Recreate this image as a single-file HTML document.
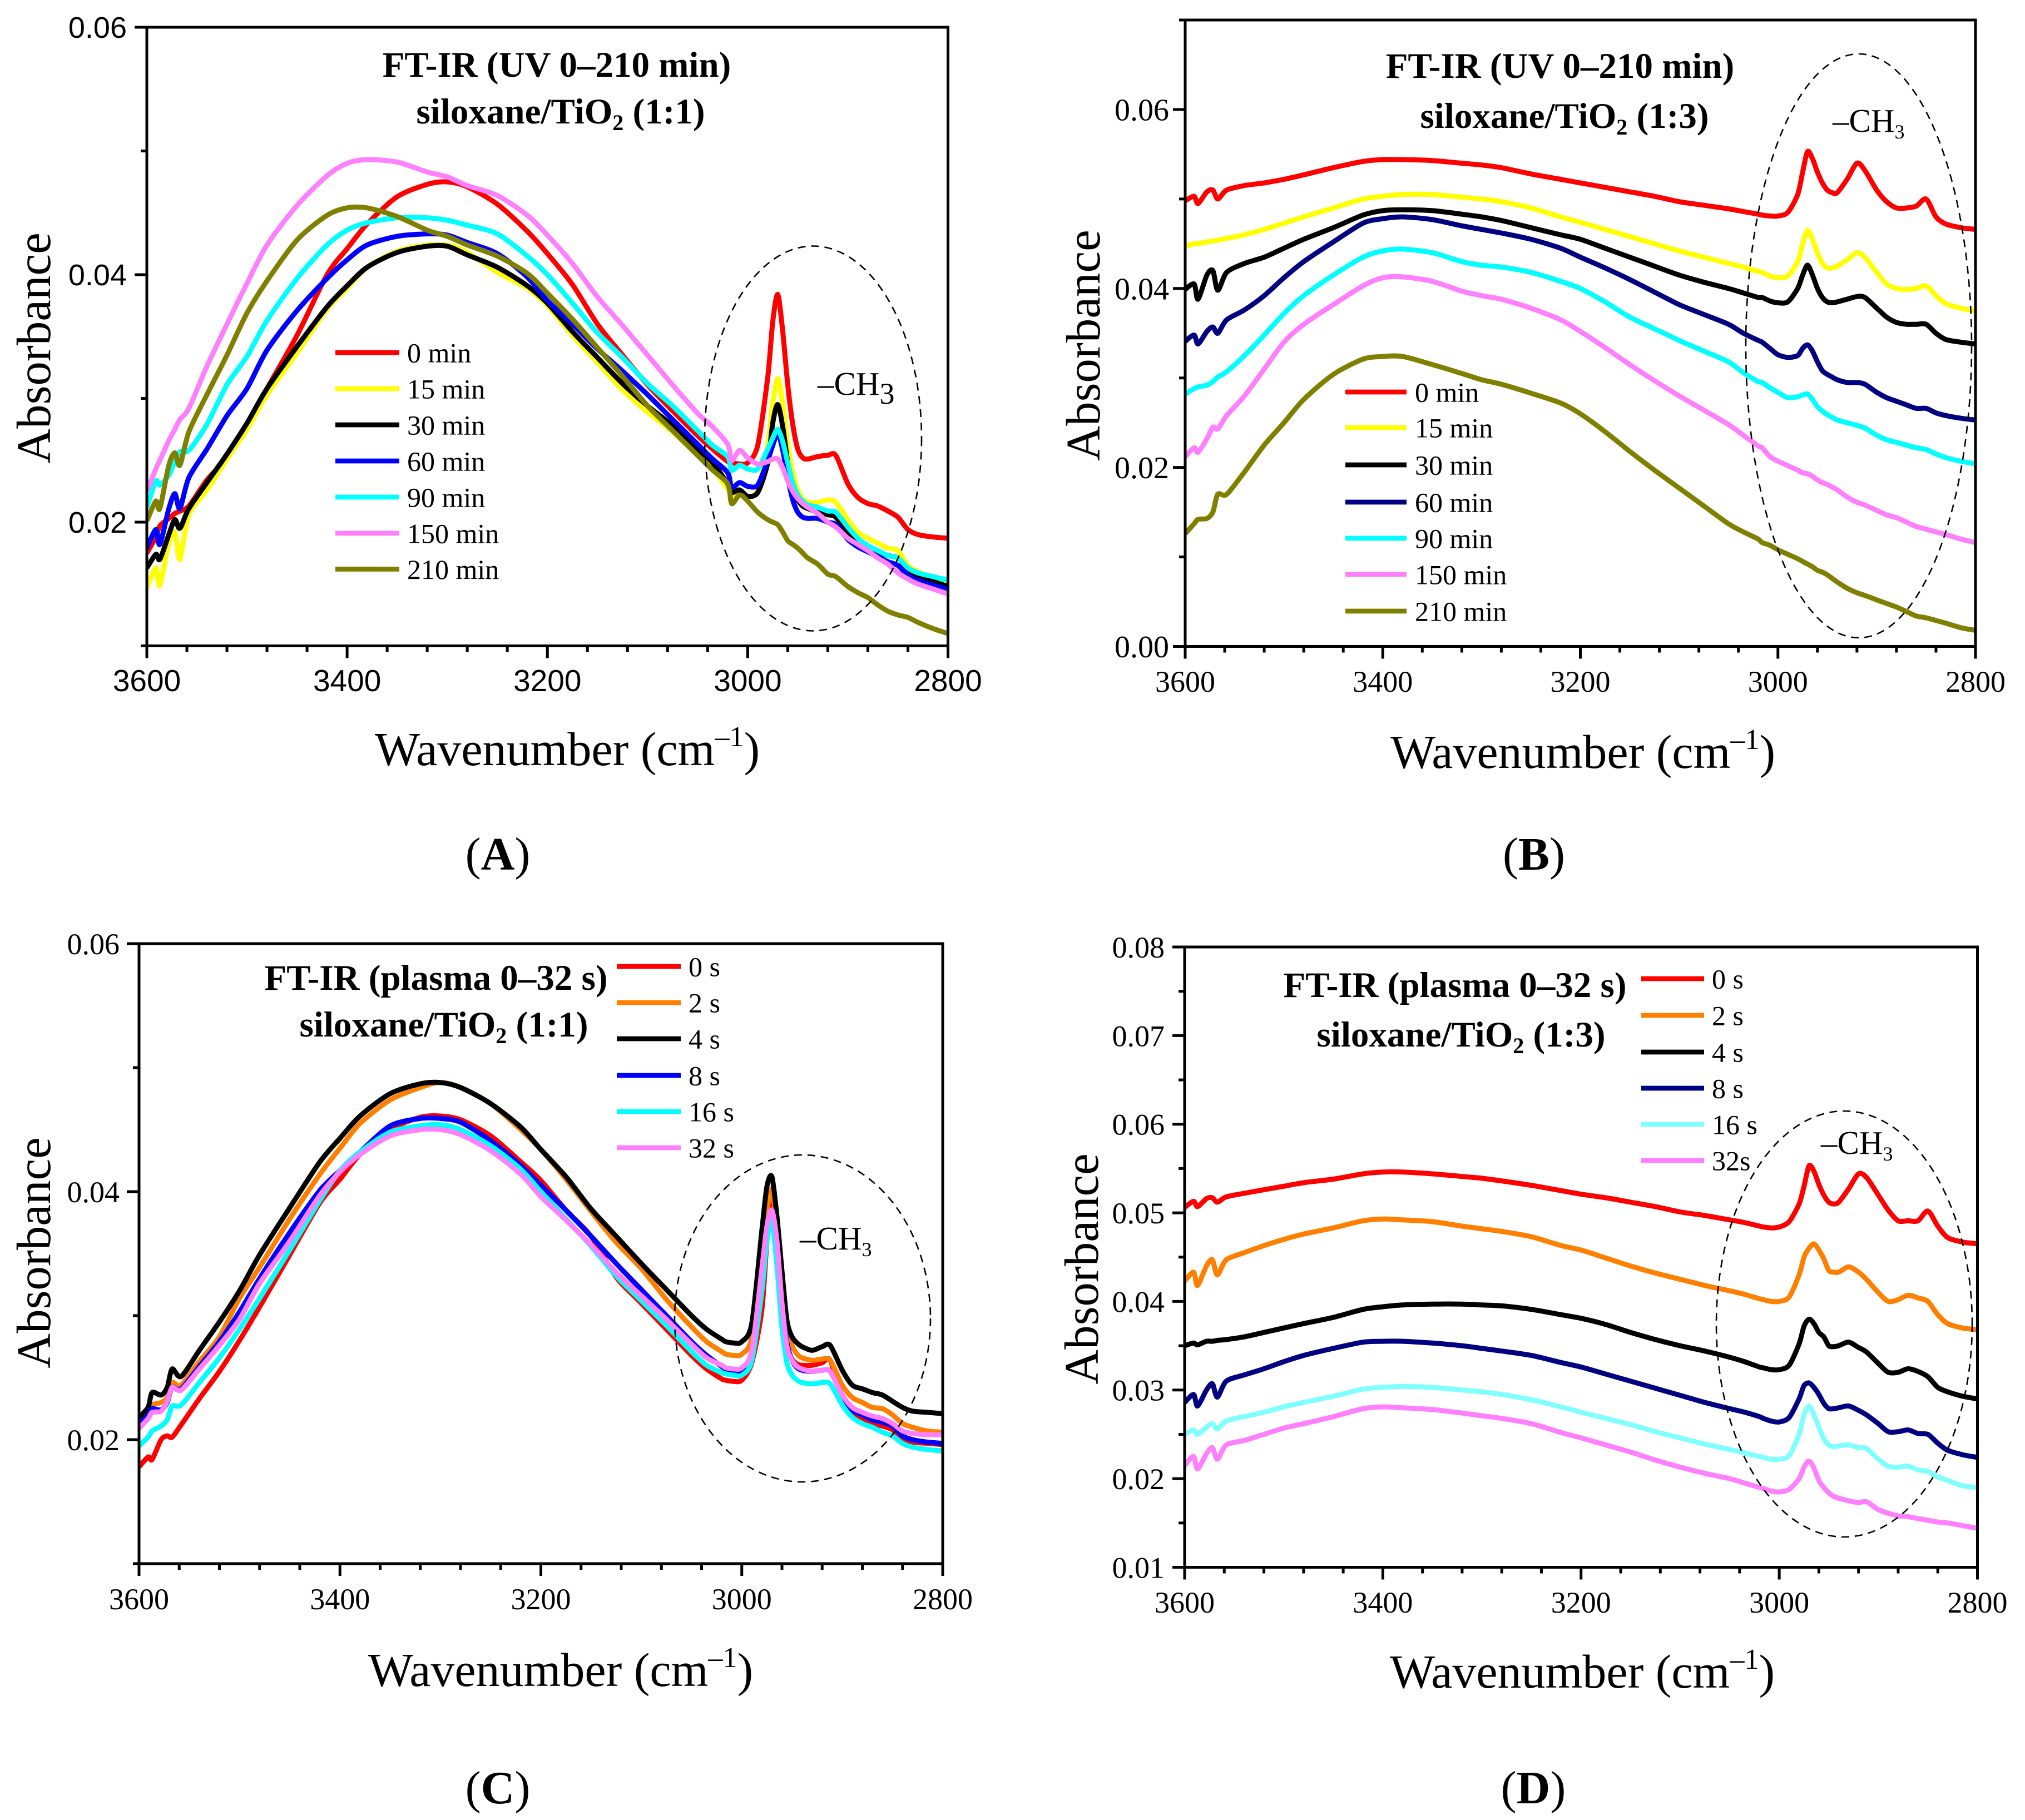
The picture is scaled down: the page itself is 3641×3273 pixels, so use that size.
<!DOCTYPE html>
<html lang="en">
<head>
<meta charset="utf-8">
<title>FT-IR spectra of siloxane/TiO2 films</title>
<style>
html,body{margin:0;padding:0;background:#fff;}
svg{display:block;}
text{font-family:"Liberation Serif",serif;fill:#000;}
.title{font-weight:bold;font-size:65px;text-anchor:middle;}
.axt{font-size:86px;}
.ytt{font-size:87px;}
.letter{font-size:84px;text-anchor:middle;}
.ch{font-size:59px;}
.ell{fill:none;stroke:#000;stroke-width:2.6;stroke-dasharray:14 10;}
</style>
</head>
<body>
<svg id="figure" xmlns="http://www.w3.org/2000/svg" width="3641" height="3273" viewBox="0 0 3641 3273">
<rect width="3641" height="3273" fill="#fff"/>
<g id="plots"></g>

<ellipse class="ell" cx="1462" cy="788.5" rx="195" ry="346"/>
<ellipse class="ell" cx="3342" cy="622" rx="203" ry="525"/>
<ellipse class="ell" cx="1443" cy="2371" rx="230" ry="294"/>
<ellipse class="ell" cx="3316" cy="2381" rx="230" ry="383"/>

<text class="title" x="1001" y="138">FT-IR (UV 0–210 min)</text>
<text class="title" x="1008" y="222">siloxane/TiO<tspan font-size="40" dy="12">2</tspan><tspan dy="-12"> (1:1)</tspan></text>
<text class="title" x="2805" y="140">FT-IR (UV 0–210 min)</text>
<text class="title" x="2813" y="230">siloxane/TiO<tspan font-size="40" dy="12">2</tspan><tspan dy="-12"> (1:3)</tspan></text>
<text class="title" x="784" y="1780">FT-IR (plasma 0–32 s)</text>
<text class="title" x="798" y="1864">siloxane/TiO<tspan font-size="40" dy="12">2</tspan><tspan dy="-12"> (1:1)</tspan></text>
<text class="title" x="2616" y="1793">FT-IR (plasma 0–32 s)</text>
<text class="title" x="2627" y="1882">siloxane/TiO<tspan font-size="40" dy="12">2</tspan><tspan dy="-12"> (1:3)</tspan></text>

<text class="ch" x="1470" y="710">–CH<tspan dy="16" font-size="54">3</tspan></text>
<text class="ch" x="3295" y="237">–CH<tspan dy="12" font-size="36">3</tspan></text>
<text class="ch" x="1438" y="2247">–CH<tspan dy="12" font-size="36">3</tspan></text>
<text class="ch" x="3274" y="2075">–CH<tspan dy="12" font-size="36">3</tspan></text>

<text class="axt" text-anchor="middle" x="1020" y="1376">Wavenumber (cm<tspan font-size="52" dy="-34">–1</tspan><tspan dy="34">)</tspan></text>
<text class="axt" text-anchor="middle" x="2846" y="1381">Wavenumber (cm<tspan font-size="52" dy="-34">–1</tspan><tspan dy="34">)</tspan></text>
<text class="axt" text-anchor="middle" x="1008" y="3032">Wavenumber (cm<tspan font-size="52" dy="-34">–1</tspan><tspan dy="34">)</tspan></text>
<text class="axt" text-anchor="middle" x="2845" y="3035">Wavenumber (cm<tspan font-size="52" dy="-34">–1</tspan><tspan dy="34">)</tspan></text>

<text class="ytt" text-anchor="middle" transform="translate(90 626) rotate(-90)">Absorbance</text>
<text class="ytt" text-anchor="middle" transform="translate(1977 621) rotate(-90)">Absorbance</text>
<text class="ytt" text-anchor="middle" transform="translate(90 2253) rotate(-90)">Absorbance</text>
<text class="ytt" text-anchor="middle" transform="translate(1974 2282) rotate(-90)">Absorbance</text>

<text class="letter" x="895" y="1564">(<tspan font-weight="bold">A</tspan>)</text>
<text class="letter" x="2758" y="1564">(<tspan font-weight="bold">B</tspan>)</text>
<text class="letter" x="895" y="3243">(<tspan font-weight="bold">C</tspan>)</text>
<text class="letter" x="2757" y="3243">(<tspan font-weight="bold">D</tspan>)</text>
</svg>

<script>
// ---------- Shared x data ----------
const wavenumbers = [3600,3591,3587,3578,3572,3567,3558,3540,3520,3500,3480,3450,3420,3400,3380,3350,3320,3300,3280,3250,3220,3200,3175,3150,3125,3100,3075,3050,3035,3020,3016,3008,3000,2990,2980,2975,2970,2965,2960,2955,2950,2945,2940,2930,2920,2912,2900,2890,2880,2870,2860,2850,2840,2830,2815,2800];
const xTickValues = [3600,3400,3200,3000,2800];
const xMinorStep = 40;

// ---------- Panel A: UV, 1:1 ----------
const labelsUV = ["0 min","15 min","30 min","60 min","90 min","150 min","210 min"];
const yTicksA = ["0.02","0.04","0.06"];
const a0 = [.0175,.0188,.0197,.0203,.0207,.0209,.0213,.0234,.0252,.0278,.0308,.0351,.0400,.0421,.0441,.0463,.0473,.0475,.0471,.0457,.0435,.0417,.0392,.0360,.0335,.0311,.0290,.0270,.0259,.0249,.0248,.0247,.0248,.0262,.0317,.0362,.0384,.0354,.0311,.0279,.0259,.0252,.0251,.0253,.0254,.0254,.0231,.0220,.0215,.0213,.0209,.0204,.0194,.0190,.0188,.0187];
const a15 = [.0147,.0163,.0149,.0183,.0192,.0170,.0206,.0226,.0251,.0275,.0303,.0337,.0372,.0389,.0406,.0419,.0424,.0424,.0418,.0402,.0389,.0375,.0351,.0329,.0307,.0289,.0273,.0254,.0243,.0227,.0221,.0222,.0220,.0226,.0262,.0296,.0316,.0295,.0262,.0240,.0226,.0219,.0216,.0216,.0218,.0216,.0202,.0192,.0187,.0183,.0179,.0177,.0165,.0160,.0155,.0151];
const a30 = [.0163,.0174,.0170,.0190,.0202,.0195,.0211,.0232,.0255,.0280,.0308,.0342,.0374,.0391,.0406,.0418,.0423,.0423,.0416,.0406,.0391,.0377,.0354,.0333,.0312,.0294,.0278,.0259,.0248,.0231,.0224,.0226,.0221,.0224,.0248,.0280,.0295,.0277,.0248,.0228,.0218,.0213,.0211,.0208,.0206,.0204,.0191,.0184,.0179,.0176,.0173,.0171,.0162,.0156,.0152,.0148];
const a60 = [.0179,.0194,.0182,.0211,.0223,.0211,.0236,.0259,.0286,.0308,.0339,.0371,.0397,.0412,.0424,.0431,.0433,.0432,.0426,.0417,.0398,.0379,.0360,.0340,.0322,.0303,.0283,.0263,.0251,.0240,.0228,.0232,.0229,.0230,.0250,.0262,.0272,.0258,.0236,.0218,.0208,.0204,.0203,.0203,.0200,.0198,.0186,.0180,.0176,.0172,.0168,.0165,.0157,.0153,.0149,.0146];
const a90 = [.0212,.0233,.0230,.0238,.0249,.0257,.0258,.0279,.0311,.0334,.0363,.0397,.0424,.0436,.0442,.0446,.0446,.0444,.0440,.0433,.0415,.0400,.0377,.0353,.0333,.0312,.0294,.0274,.0262,.0253,.0242,.0246,.0243,.0243,.0259,.0268,.0275,.0265,.0248,.0232,.0222,.0217,.0214,.0212,.0209,.0208,.0196,.0187,.0181,.0177,.0173,.0171,.0163,.0159,.0156,.0153];
const a150 = [.0225,.0243,.0250,.0266,.0275,.0283,.0292,.0326,.0360,.0393,.0424,.0456,.0480,.0490,.0493,.0491,.0483,.0479,.0472,.0464,.0448,.0432,.0409,.0382,.0359,.0335,.0311,.0288,.0277,.0263,.0250,.0258,.0252,.0247,.0249,.0251,.0251,.0244,.0233,.0225,.0219,.0215,.0212,.0207,.0200,.0196,.0187,.0182,.0177,.0171,.0166,.0159,.0154,.0150,.0146,.0142];
const a210 = [.0201,.0217,.0211,.0246,.0256,.0246,.0273,.0303,.0335,.0369,.0395,.0428,.0448,.0454,.0454,.0447,.0436,.0431,.0424,.0415,.0401,.0385,.0364,.0341,.0318,.0294,.0274,.0254,.0242,.0231,.0215,.0222,.0217,.0208,.0202,.0200,.0198,.0192,.0185,.0182,.0179,.0175,.0171,.0166,.0158,.0156,.0148,.0143,.0139,.0133,.0128,.0125,.0123,.0119,.0114,.0110];

// ---------- Panel B: UV, 1:3 ----------
const yTicksB = ["0.00","0.02","0.04","0.06"];
const b0 = [.0498,.0503,.0495,.0508,.0510,.0500,.0510,.0515,.0518,.0522,.0527,.0535,.0542,.0544,.0544,.0543,.0540,.0538,.0535,.0528,.0522,.0518,.0513,.0508,.0503,.0497,.0493,.0489,.0486,.0483,.0482,.0481,.0481,.0485,.0505,.0530,.0553,.0545,.0530,.0518,.0510,.0507,.0507,.0522,.0540,.0532,.0510,.0497,.0490,.0490,.0492,.0500,.0480,.0472,.0468,.0466];
const b15 = [.0447,.0450,.0450,.0452,.0453,.0454,.0456,.0460,.0466,.0473,.0480,.0490,.0500,.0503,.0505,.0505,.0502,.0500,.0497,.0490,.0480,.0474,.0466,.0458,.0450,.0442,.0435,.0428,.0424,.0419,.0418,.0414,.0412,.0414,.0430,.0450,.0465,.0455,.0440,.0428,.0423,.0423,.0425,.0432,.0440,.0435,.0418,.0405,.0400,.0399,.0400,.0403,.0392,.0383,.0378,.0375];
const b30 = [.0399,.0405,.0388,.0415,.0420,.0398,.0418,.0428,.0435,.0445,.0455,.0468,.0482,.0487,.0488,.0487,.0483,.0480,.0476,.0468,.0460,.0455,.0445,.0435,.0425,.0415,.0407,.0400,.0395,.0390,.0390,.0386,.0384,.0385,.0400,.0415,.0426,.0415,.0400,.0390,.0385,.0384,.0385,.0388,.0391,.0390,.0378,.0368,.0362,.0360,.0360,.0360,.0350,.0343,.0340,.0338];
const b60 = [.0341,.0348,.0338,.0352,.0357,.0350,.0365,.0376,.0392,.0412,.0430,.0452,.0473,.0478,.0480,.0477,.0470,.0466,.0462,.0455,.0445,.0435,.0423,.0410,.0396,.0382,.0371,.0360,.0350,.0342,.0340,.0333,.0326,.0323,.0325,.0333,.0337,.0330,.0318,.0308,.0304,.0301,.0298,.0295,.0295,.0293,.0284,.0278,.0274,.0270,.0266,.0266,.0261,.0258,.0255,.0253];
const b90 = [.0282,.0288,.0290,.0292,.0296,.0301,.0307,.0325,.0348,.0372,.0392,.0415,.0435,.0442,.0444,.0440,.0430,.0426,.0424,.0418,.0408,.0400,.0385,.0368,.0355,.0342,.0330,.0318,.0306,.0296,.0295,.0289,.0284,.0278,.0279,.0281,.0282,.0276,.0268,.0263,.0259,.0256,.0253,.0250,.0247,.0244,.0236,.0231,.0228,.0225,.0222,.0220,.0215,.0211,.0207,.0204];
const b150 = [.0212,.0222,.0217,.0232,.0245,.0243,.0258,.0280,.0310,.0340,.0360,.0382,.0403,.0412,.0413,.0408,.0397,.0392,.0388,.0378,.0365,.0352,.0334,.0315,.0297,.0280,.0264,.0248,.0236,.0224,.0222,.0212,.0207,.0202,.0197,.0194,.0193,.0190,.0186,.0183,.0181,.0178,.0175,.0167,.0161,.0158,.0152,.0147,.0144,.0139,.0134,.0131,.0128,.0125,.0120,.0116];
const b210 = [.0126,.0137,.0142,.0143,.0150,.0170,.0170,.0195,.0225,.0250,.0276,.0304,.0321,.0324,.0324,.0315,.0305,.0298,.0293,.0283,.0272,.0260,.0240,.0218,.0197,.0177,.0157,.0137,.0128,.0120,.0116,.0113,.0108,.0103,.0098,.0095,.0092,.0089,.0085,.0083,.0080,.0076,.0072,.0065,.0060,.0057,.0052,.0048,.0044,.0039,.0034,.0032,.0029,.0026,.0021,.0018];

// ---------- Panel C: plasma, 1:1 ----------
const labelsPlasmaC = ["0 s","2 s","4 s","8 s","16 s","32 s"];
const yTicksC = ["0.02","0.04","0.06"];
const c0 = [.0178,.0186,.0184,.0200,.0203,.0202,.0212,.0233,.0255,.0280,.0307,.0349,.0391,.0410,.0430,.0450,.0460,.0461,.0458,.0445,.0424,.0409,.0385,.0364,.0331,.0310,.0289,.0268,.0257,.0249,.0248,.0247,.0248,.0262,.0305,.0360,.0395,.0360,.0305,.0275,.0265,.0261,.0260,.0260,.0262,.0264,.0234,.0222,.0217,.0213,.0211,.0208,.0201,.0198,.0197,.0196];
const c2 = [.0215,.0222,.0228,.0230,.0234,.0246,.0244,.0263,.0283,.0314,.0339,.0378,.0414,.0435,.0455,.0474,.0484,.0488,.0484,.0471,.0450,.0434,.0410,.0384,.0359,.0338,.0313,.0291,.0279,.0271,.0269,.0268,.0269,.0283,.0355,.0385,.0402,.0370,.0325,.0288,.0276,.0269,.0266,.0264,.0265,.0264,.0244,.0234,.0230,.0226,.0225,.0220,.0213,.0210,.0207,.0206];
const c4 = [.0218,.0226,.0238,.0236,.0242,.0257,.0251,.0272,.0295,.0320,.0349,.0387,.0424,.0443,.0461,.0479,.0487,.0488,.0484,.0471,.0452,.0434,.0412,.0386,.0364,.0342,.0321,.0300,.0289,.0281,.0279,.0278,.0279,.0294,.0369,.0404,.0412,.0380,.0336,.0296,.0283,.0278,.0275,.0272,.0275,.0276,.0256,.0244,.0241,.0238,.0236,.0231,.0226,.0223,.0222,.0221];
const c8 = [.0212,.0220,.0225,.0224,.0230,.0242,.0241,.0259,.0279,.0303,.0330,.0367,.0401,.0417,.0432,.0453,.0459,.0459,.0456,.0441,.0421,.0405,.0385,.0364,.0342,.0321,.0300,.0279,.0268,.0259,.0257,.0256,.0256,.0267,.0335,.0370,.0385,.0358,.0310,.0278,.0264,.0258,.0256,.0255,.0256,.0255,.0236,.0224,.0220,.0216,.0214,.0211,.0203,.0200,.0198,.0197];
const c16 = [.0195,.0202,.0207,.0211,.0216,.0227,.0228,.0246,.0266,.0289,.0314,.0353,.0393,.0417,.0432,.0448,.0453,.0454,.0450,.0437,.0418,.0400,.0378,.0356,.0332,.0312,.0292,.0271,.0260,.0254,.0253,.0252,.0252,.0264,.0320,.0360,.0376,.0340,.0290,.0262,.0252,.0248,.0246,.0245,.0246,.0245,.0228,.0218,.0213,.0210,.0206,.0203,.0197,.0194,.0192,.0191];
const c32 = [.0209,.0217,.0222,.0223,.0231,.0242,.0240,.0257,.0276,.0297,.0326,.0360,.0397,.0416,.0430,.0445,.0450,.0450,.0446,.0433,.0414,.0396,.0377,.0357,.0335,.0316,.0297,.0277,.0266,.0260,.0258,.0257,.0258,.0272,.0338,.0372,.0385,.0360,.0310,.0275,.0264,.0259,.0257,.0255,.0256,.0255,.0236,.0226,.0222,.0219,.0217,.0213,.0207,.0205,.0204,.0204];

// ---------- Panel D: plasma, 1:3 ----------
const labelsPlasmaD = ["0 s","2 s","4 s","8 s","16 s","32s"];
const yTicksD = ["0.01","0.02","0.03","0.04","0.05","0.06","0.07","0.08"];
const d0 = [.0506,.0513,.0507,.0516,.0517,.0512,.0518,.0522,.0526,.0530,.0534,.0538,.0544,.0546,.0546,.0544,.0541,.0539,.0536,.0531,.0525,.0521,.0517,.0512,.0507,.0501,.0497,.0492,.0489,.0485,.0484,.0483,.0484,.0490,.0510,.0530,.0553,.0547,.0532,.0520,.0512,.0510,.0512,.0527,.0544,.0540,.0520,.0503,.0491,.0491,.0491,.0502,.0485,.0472,.0467,.0465];
const d2 = [.0423,.0433,.0418,.0440,.0447,.0430,.0447,.0455,.0463,.0470,.0476,.0483,.0491,.0493,.0492,.0490,.0485,.0482,.0479,.0473,.0463,.0458,.0449,.0440,.0432,.0425,.0418,.0412,.0408,.0403,.0402,.0400,.0400,.0405,.0430,.0450,.0460,.0465,.0458,.0448,.0435,.0433,.0433,.0439,.0433,.0425,.0410,.0400,.0402,.0407,.0404,.0400,.0385,.0375,.0370,.0368];
const d4 = [.0350,.0353,.0351,.0355,.0355,.0356,.0357,.0360,.0365,.0370,.0375,.0382,.0391,.0394,.0396,.0397,.0397,.0396,.0395,.0391,.0385,.0381,.0374,.0365,.0357,.0350,.0344,.0337,.0332,.0326,.0325,.0323,.0323,.0328,.0352,.0372,.0380,.0375,.0365,.0360,.0350,.0349,.0350,.0354,.0348,.0343,.0330,.0320,.0320,.0324,.0321,.0315,.0303,.0298,.0293,.0290];
const d8 = [.0286,.0295,.0282,.0300,.0307,.0292,.0310,.0317,.0324,.0332,.0339,.0347,.0354,.0355,.0355,.0353,.0350,.0347,.0344,.0339,.0331,.0326,.0318,.0310,.0302,.0294,.0286,.0279,.0275,.0270,.0268,.0265,.0264,.0269,.0290,.0305,.0308,.0303,.0295,.0285,.0279,.0279,.0280,.0282,.0277,.0272,.0262,.0253,.0253,.0255,.0251,.0250,.0240,.0232,.0227,.0224];
const d16 = [.0250,.0255,.0250,.0258,.0262,.0256,.0265,.0270,.0275,.0281,.0286,.0293,.0301,.0303,.0304,.0303,.0300,.0298,.0295,.0289,.0281,.0275,.0268,.0261,.0253,.0246,.0239,.0233,.0229,.0225,.0224,.0222,.0222,.0226,.0250,.0272,.0282,.0272,.0258,.0245,.0238,.0236,.0237,.0238,.0235,.0234,.0222,.0214,.0213,.0214,.0210,.0208,.0202,.0198,.0192,.0190];
const d32 = [.0215,.0225,.0211,.0228,.0235,.0222,.0238,.0243,.0250,.0257,.0262,.0270,.0279,.0281,.0280,.0278,.0274,.0271,.0268,.0262,.0252,.0246,.0238,.0230,.0221,.0213,.0206,.0200,.0195,.0190,.0189,.0186,.0185,.0188,.0200,.0213,.0220,.0212,.0198,.0190,.0184,.0180,.0178,.0175,.0173,.0174,.0165,.0161,.0158,.0157,.0155,.0153,.0151,.0150,.0147,.0144];

// ---------- Styling and layout (not data) ----------
const RED="#FF0000",YEL="#FFFF00",BLK="#000000",BLU="#0000FF",CYN="#00FFFF",PNK="#FF80FF",OLV="#808000",NVY="#000080",ORG="#FF8000",LCY="#80FFFF";
const SVGNS = "http://www.w3.org/2000/svg";

const panels = [
  {id:"a",L:264,R:1704.5,T:49,B:1161.5,yMin:.01,yMax:.06,yTicks:yTicksA,yMinorStep:.01,labels:labelsUV,
   series:[a0,a15,a30,a60,a90,a150,a210],colors:[RED,YEL,BLK,BLU,CYN,PNK,OLV],
   leg:{x1:603,x2:718,tx:732,ys:[634,699,764,829,894,959,1023.5],size:50},
   tickFont:'"Liberation Sans",sans-serif',yFs:54,xFs:55,yRight:228,xBase:1243},
  {id:"b",L:2131,R:3552,T:36,B:1162.5,yMin:0,yMax:.07,yTicks:yTicksB,yMinorStep:.01,labels:labelsUV,
   series:[b0,b15,b30,b60,b90,b150,b210],colors:[RED,YEL,BLK,NVY,CYN,PNK,OLV],
   leg:{x1:2419,x2:2529,tx:2544,ys:[705,769,836,903,968,1033,1099],size:50},
   tickFont:'"Liberation Serif",serif',yFs:56,xFs:54,yRight:2102,xBase:1244},
  {id:"c",L:250,R:1695,T:1697,B:2812,yMin:.01,yMax:.06,yTicks:yTicksC,yMinorStep:.01,labels:labelsPlasmaC,
   series:[c0,c2,c4,c8,c16,c32],colors:[RED,ORG,BLK,BLU,CYN,PNK],
   leg:{x1:1109,x2:1224,tx:1238,ys:[1738,1803,1868,1934,1999,2064],size:50},
   tickFont:'"Liberation Serif",serif',yFs:54,xFs:54,yRight:215,xBase:2894},
  {id:"d",L:2130,R:3555.5,T:1703,B:2818.5,yMin:.01,yMax:.08,yTicks:yTicksD,yMinorStep:.005,labels:labelsPlasmaD,
   series:[d0,d2,d4,d8,d16,d32],colors:[RED,ORG,BLK,NVY,LCY,PNK],
   leg:{x1:2951,x2:3064,tx:3078,ys:[1760,1826,1892,1957,2022,2087],size:50},
   tickFont:'"Liberation Serif",serif',yFs:54,xFs:54,yRight:2094,xBase:2900}
];

function make(tag, attrs, parent){
  const e = document.createElementNS(SVGNS, tag);
  for (const k in attrs) e.setAttribute(k, attrs[k]);
  parent.appendChild(e);
  return e;
}

// Catmull-Rom smoothing through data-derived points
function smoothPath(pts){
  let d = "M" + pts[0][0].toFixed(1) + " " + pts[0][1].toFixed(1);
  for (let i = 0; i < pts.length - 1; i++){
    const p0 = pts[Math.max(i-1,0)], p1 = pts[i], p2 = pts[i+1], p3 = pts[Math.min(i+2,pts.length-1)];
    const k = 0.14;
    const c1x = p1[0] + (p2[0]-p0[0])*k, c1y = p1[1] + (p2[1]-p0[1])*k;
    const c2x = p2[0] - (p3[0]-p1[0])*k, c2y = p2[1] - (p3[1]-p1[1])*k;
    d += "C" + c1x.toFixed(1) + " " + c1y.toFixed(1) + " " + c2x.toFixed(1) + " " + c2y.toFixed(1) + " " + p2[0].toFixed(1) + " " + p2[1].toFixed(1);
  }
  return d;
}

const root = document.getElementById("plots");

panels.forEach(function(p){
  const xScale = function(w){ return p.L + (3600 - w) / 800 * (p.R - p.L); };
  const yScale = function(v){ return p.B - (v - p.yMin) / (p.yMax - p.yMin) * (p.B - p.T); };

  const g = make("g", {}, root);
  
  

  // Curves, clipped to the plot rectangle
  const clip = make("clipPath", {id:"clip-" + p.id}, g);
  make("rect", {x:p.L, y:p.T, width:p.R-p.L, height:p.B-p.T}, clip);
  const curves = make("g", {"clip-path":"url(#clip-" + p.id + ")"}, g);
  
  
  p.series.forEach(function(vals, i){
    const pts = vals.map(function(v, j){ return [xScale(wavenumbers[j]), yScale(v)]; });
    const line = make("path", {d:smoothPath(pts), fill:"none", stroke:p.colors[i], "stroke-width":9, "stroke-linejoin":"round", "stroke-linecap":"butt"}, curves);
    
    
  });

  // Frame
  const frame = make("rect", {x:p.L, y:p.T, width:p.R-p.L, height:p.B-p.T, fill:"none", stroke:"#000", "stroke-width":5}, g);
  
  

  // X ticks
  for (let w = 3600; w >= 2800; w -= xMinorStep){
    const major = xTickValues.indexOf(w) >= 0;
    const x = xScale(w);
    const t = make("line", {x1:x, x2:x, y1:p.B, y2:p.B + (major ? 22 : 11), stroke:"#000", "stroke-width":5}, g);
    
    
  }
  xTickValues.forEach(function(w){
    const t = make("text", {x:xScale(w), y:p.xBase, "text-anchor":"middle", "font-size":p.xFs, style:"font-family:" + p.tickFont}, g);
    t.textContent = String(w);
    
    
  });

  // Y ticks
  const yCount = Math.round((p.yMax - p.yMin) / p.yMinorStep);
  for (let i = 0; i <= yCount; i++){
    const v = p.yMin + i * p.yMinorStep;
    const isMajor = p.yTicks.indexOf(v.toFixed(2)) >= 0 && Math.abs(v * 100 - Math.round(v * 100)) < 1e-6;
    const y = yScale(v);
    const t = make("line", {x1:p.L, x2:p.L - (isMajor ? 22 : 11), y1:y, y2:y, stroke:"#000", "stroke-width":5}, g);
    
    
  }
  p.yTicks.forEach(function(lbl){
    const t = make("text", {x:p.yRight, y:yScale(parseFloat(lbl)) + p.yFs * 0.35, "text-anchor":"end", "font-size":p.yFs, style:"font-family:" + p.tickFont}, g);
    t.textContent = lbl;
    
    
  });

  // Legend
  const legend = make("g", {}, g);
  
  
  p.labels.forEach(function(lbl, i){
    const y = p.leg.ys[i];
    const swatch = make("line", {x1:p.leg.x1, x2:p.leg.x2, y1:y, y2:y, stroke:p.colors[i], "stroke-width":8.7}, legend);
    
    
    const t = make("text", {x:p.leg.tx, y:y + 17.5, "font-size":p.leg.size}, legend);
    t.textContent = lbl;
    
    
  });
});
</script>
</body>
</html>
